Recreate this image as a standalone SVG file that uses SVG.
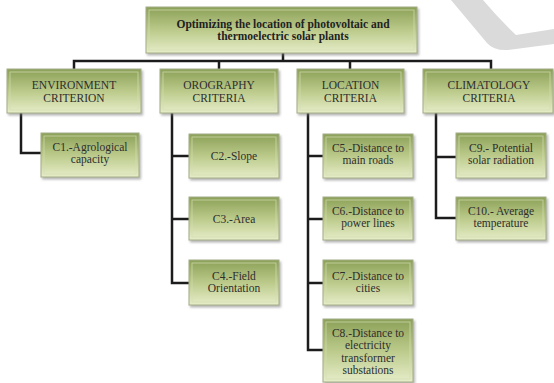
<svg xmlns="http://www.w3.org/2000/svg" width="554" height="383" viewBox="0 0 554 383">
<defs>
<linearGradient id="fill" x1="0" y1="0" x2="0" y2="1">
<stop offset="0" stop-color="#8ba057"/>
<stop offset="0.5" stop-color="#bbca8a"/>
<stop offset="1" stop-color="#e6edc9"/>
</linearGradient>
<filter id="sh" x="-10%" y="-10%" width="125%" height="135%">
<feDropShadow dx="1.5" dy="2" stdDeviation="1.3" flood-color="#777" flood-opacity="0.55"/>
</filter>
</defs>
<style>
.box{fill:url(#fill);stroke:#a3ad88;stroke-width:1;filter:url(#sh);}
.inner{fill:none;stroke:#d4ddb4;stroke-width:1;opacity:0.7;}
.t{font-family:"Liberation Serif","Times New Roman",serif;font-size:11.5px;fill:#2e2e2e;text-anchor:middle;}
.tb{font-family:"Liberation Serif","Times New Roman",serif;font-size:11.5px;font-weight:bold;fill:#222;text-anchor:middle;}
.c{fill:none;stroke:#1c1c1c;stroke-width:2.5;stroke-linejoin:miter;}
</style>
<path d="M451 0 L483 0 Q500 20 516 35 L554 29 L554 44 L508 50 Q494 51 487 43 Z" fill="#dadada"/>
<g id="connectors">
<path class="c" d="M283 53 V61 M74 70 V61 H491 V70 M219 61 V70 M350 61 V70"/>
<path class="c" d="M21 113 V153 H41"/>
<path class="c" d="M189 156 H172 V113 M172 219 H189 M172 156 V283 H189"/>
<path class="c" d="M323 156 H308 V113 M308 219 H323 M308 283 H323 M308 156 V350 H323"/>
<path class="c" d="M456 157 H436 V113 M436 157 V218 H456"/>
</g>
<g id="root"><rect class="box" x="146" y="7" width="271" height="46"/><rect class="inner" x="149" y="10" width="265" height="40"/>
<text class="tb" x="283" y="28">Optimizing the location of photovoltaic and</text>
<text class="tb" x="283" y="40">thermoelectric solar plants</text></g>
<g id="environment"><rect class="box" x="7" y="69" width="134" height="44"/><rect class="inner" x="10" y="72" width="128" height="38"/>
<text class="t" x="74" y="89">ENVIRONMENT</text><text class="t" x="74" y="101.5">CRITERION</text></g>
<g id="orography"><rect class="box" x="160" y="69" width="118" height="44"/><rect class="inner" x="163" y="72" width="112" height="38"/>
<text class="t" x="219" y="89">OROGRAPHY</text><text class="t" x="219" y="101.5">CRITERIA</text></g>
<g id="location"><rect class="box" x="297" y="69" width="107" height="44"/><rect class="inner" x="300" y="72" width="101" height="38"/>
<text class="t" x="350.5" y="89">LOCATION</text><text class="t" x="350.5" y="101.5">CRITERIA</text></g>
<g id="climatology"><rect class="box" x="423" y="69" width="130" height="44"/><rect class="inner" x="426" y="72" width="124" height="38"/>
<text class="t" x="489" y="89">CLIMATOLOGY</text><text class="t" x="489" y="101.5">CRITERIA</text></g>
<g id="c1"><rect class="box" x="41" y="133" width="98" height="44"/><rect class="inner" x="44" y="136" width="92" height="38"/>
<text class="t" x="90" y="151">C1.-Agrological</text><text class="t" x="90" y="163">capacity</text></g>
<g id="c2"><rect class="box" x="189" y="134" width="90" height="44"/><rect class="inner" x="192" y="137" width="84" height="38"/>
<text class="t" x="234" y="160">C2.-Slope</text></g>
<g id="c3"><rect class="box" x="189" y="197" width="90" height="43"/><rect class="inner" x="192" y="200" width="84" height="37"/>
<text class="t" x="234" y="222.5">C3.-Area</text></g>
<g id="c4"><rect class="box" x="189" y="260" width="90" height="45"/><rect class="inner" x="192" y="263" width="84" height="39"/>
<text class="t" x="234" y="280">C4.-Field</text><text class="t" x="234" y="292">Orientation</text></g>
<g id="c5"><rect class="box" x="323" y="134" width="90" height="44"/><rect class="inner" x="326" y="137" width="84" height="38"/>
<text class="t" x="368" y="152">C5.-Distance to</text><text class="t" x="368" y="164">main roads</text></g>
<g id="c6"><rect class="box" x="323" y="197" width="90" height="43"/><rect class="inner" x="326" y="200" width="84" height="37"/>
<text class="t" x="368" y="215">C6.-Distance to</text><text class="t" x="368" y="227">power lines</text></g>
<g id="c7"><rect class="box" x="323" y="260" width="90" height="45"/><rect class="inner" x="326" y="263" width="84" height="39"/>
<text class="t" x="368" y="280">C7.-Distance to</text><text class="t" x="368" y="292">cities</text></g>
<g id="c8"><rect class="box" x="323" y="319" width="90" height="63"/><rect class="inner" x="326" y="322" width="84" height="57"/>
<text class="t" x="368" y="337">C8.-Distance to</text><text class="t" x="368" y="349">electricity</text><text class="t" x="368" y="361.5">transformer</text><text class="t" x="368" y="373.5">substations</text></g>
<g id="c9"><rect class="box" x="456" y="133" width="90" height="45"/><rect class="inner" x="459" y="136" width="84" height="39"/>
<text class="t" x="501" y="152">C9.- Potential</text><text class="t" x="501" y="164">solar radiation</text></g>
<g id="c10"><rect class="box" x="456" y="197" width="90" height="43"/><rect class="inner" x="459" y="200" width="84" height="37"/>
<text class="t" x="501" y="215">C10.- Average</text><text class="t" x="501" y="227">temperature</text></g>
</svg>
